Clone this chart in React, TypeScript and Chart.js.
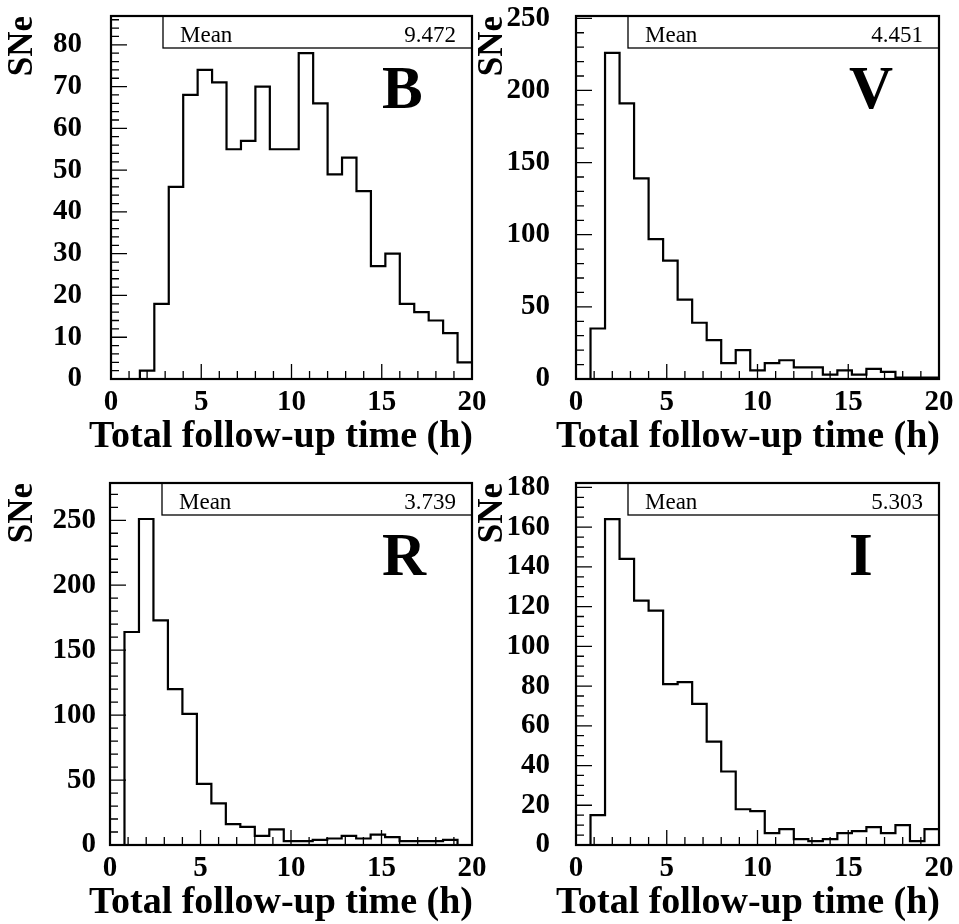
import React, { useEffect, useRef } from 'react';
import { Chart, registerables } from 'chart.js';

Chart.register(...registerables);

// ---------------- data ----------------
const binEdges = [0, 0.8, 1.6, 2.4, 3.2, 4.0, 4.8, 5.6, 6.4, 7.2, 8.0, 8.8, 9.6, 10.4, 11.2, 12.0, 12.8, 13.6, 14.4, 15.2, 16.0, 16.8, 17.6, 18.4, 19.2, 20.0];

const countsB = [0, 0, 2, 18, 46, 68, 74, 71, 55, 57, 70, 55, 55, 78, 66, 49, 53, 45, 27, 30, 18, 16, 14, 11, 4];
const countsV = [0, 35, 226, 191, 139, 97, 82, 55, 39, 27, 11, 20, 6, 11, 13, 8, 8, 3, 6, 3, 7, 5, 1, 1, 1];
const countsR = [0, 164, 251, 173, 120, 101, 47, 32, 16, 14, 7, 12, 3, 3, 4, 5, 7, 5, 8, 6, 3, 3, 3, 4, 0];
const countsI = [0, 15, 164, 144, 123, 118, 81, 82, 71, 52, 37, 18, 17, 6, 8, 3, 2, 3, 6, 7, 9, 6, 10, 2, 8];

const bandNames = ['B', 'V', 'R', 'I'];
const meanValues = ['9.472', '4.451', '3.739', '5.303'];

const xTickValues = [0, 5, 10, 15, 20];
const yTicksB = [0, 10, 20, 30, 40, 50, 60, 70, 80];
const yTicksV = [0, 50, 100, 150, 200, 250];
const yTicksR = [0, 50, 100, 150, 200, 250];
const yTicksI = [0, 20, 40, 60, 80, 100, 120, 140, 160, 180];

const yMaxValues = [86.9, 251.6, 278.7, 182.2];
const yMinorSteps = [2, 10, 10, 5];

const xTitle = 'Total follow-up time (h)';
const yTitle = 'SNe';

const allCounts = [countsB, countsV, countsR, countsI];
const allYTicks = [yTicksB, yTicksV, yTicksR, yTicksI];

// ---------------- layout ----------------
const serif = "'Liberation Serif', 'Times New Roman', Times, serif";

type Layout = {
  left: number; top: number; width: number; height: number;
  frameLeft: number; frameTop: number; frameRight: number; frameBottom: number;
  labelPad: number;
};

const layouts: Layout[] = [
  { left: 0, top: 0, width: 490, height: 462, frameLeft: 111, frameTop: 16, frameRight: 472, frameBottom: 379, labelPad: 29 },
  { left: 470, top: 0, width: 489, height: 462, frameLeft: 576, frameTop: 16, frameRight: 939, frameBottom: 379, labelPad: 26 },
  { left: 0, top: 462, width: 490, height: 462, frameLeft: 110, frameTop: 483, frameRight: 472, frameBottom: 845, labelPad: 14 },
  { left: 470, top: 462, width: 489, height: 462, frameLeft: 576, frameTop: 483, frameRight: 939, frameBottom: 845, labelPad: 26 },
];

const rootStyle = {
  id: 'rootStyle',
  afterDraw(chart: any, _args: any, opts: any) {
    const { ctx, chartArea: a, scales } = chart;
    const xs = scales.x;
    const ys = scales.y;
    ctx.save();
    ctx.strokeStyle = '#000';
    ctx.fillStyle = '#000';

    // inward tick marks
    ctx.lineWidth = 1.3;
    ctx.beginPath();
    for (let k = 0; k <= 20; k++) {
      const px = xs.getPixelForValue(k);
      const len = k % 5 === 0 ? 15 : 8;
      ctx.moveTo(px, a.bottom);
      ctx.lineTo(px, a.bottom - len);
    }
    const minor = opts.yMinor;
    const major = opts.yMajor;
    const n = Math.floor(ys.max / minor + 1e-9);
    for (let k = 0; k <= n; k++) {
      const v = k * minor;
      const py = ys.getPixelForValue(v);
      const isMajor = Math.abs(v / major - Math.round(v / major)) < 1e-6;
      ctx.moveTo(a.left, py);
      ctx.lineTo(a.left + (isMajor ? 16 : 8), py);
    }
    ctx.stroke();

    // frame
    ctx.lineWidth = 2.2;
    ctx.strokeRect(a.left, a.top, a.right - a.left, a.bottom - a.top);

    // stats box
    const bx = a.left + 52;
    const bh = 32;
    ctx.lineWidth = 1.3;
    ctx.strokeRect(bx, a.top, a.right - bx, bh);
    ctx.font = `23px ${serif}`;
    ctx.textBaseline = 'alphabetic';
    ctx.textAlign = 'left';
    ctx.fillText('Mean', bx + 17, a.top + 26);
    ctx.textAlign = 'right';
    ctx.fillText(opts.mean, a.right - 16, a.top + 26);

    // band letter
    ctx.font = `bold 61px ${serif}`;
    ctx.textAlign = 'left';
    ctx.fillText(opts.band, a.right - 90, a.top + 92);

    // x axis title (right aligned, ROOT style)
    ctx.font = `bold 38px ${serif}`;
    ctx.textAlign = 'right';
    ctx.fillText(xTitle, a.right + 1, a.bottom + 67.5);

    ctx.restore();
  },
};

function Panel({ idx }: { idx: number }) {
  const ref = useRef<HTMLCanvasElement>(null);
  const L = layouts[idx];

  useEffect(() => {
    const counts = allCounts[idx];
    const yTicks = allYTicks[idx];
    const points = binEdges.map((e, i) => ({ x: e, y: counts[Math.min(i, counts.length - 1)] }));
    const chart = new Chart(ref.current as HTMLCanvasElement, {
      type: 'line',
      data: {
        datasets: [
          {
            data: points,
            borderColor: '#000',
            borderWidth: 2.2,
            pointRadius: 0,
            stepped: 'before',
            fill: false,
            borderJoinStyle: 'miter',
          } as any,
        ],
      },
      options: {
        animation: false,
        responsive: false,
        maintainAspectRatio: false,
        devicePixelRatio: 1,
        events: [],
        layout: {
          padding: {
            left: 0,
            top: L.frameTop - L.top,
            right: L.left + L.width - L.frameRight,
            bottom: 0,
          },
        },
        plugins: {
          legend: { display: false },
          tooltip: { enabled: false },
          rootStyle: {
            yMinor: yMinorSteps[idx],
            yMajor: yTicks[1] - yTicks[0],
            mean: meanValues[idx],
            band: bandNames[idx],
          },
        } as any,
        scales: {
          x: {
            type: 'linear',
            min: 0,
            max: 20,
            afterBuildTicks: (s: any) => {
              s.ticks = xTickValues.map((v) => ({ value: v }));
            },
            afterFit: (s: any) => {
              s.height = L.top + L.height - L.frameBottom;
              s.paddingLeft = 0;
              s.paddingRight = 0;
            },
            grid: { display: false, drawTicks: false },
            border: { display: false },
            ticks: {
              padding: 6,
              autoSkip: false,
              maxRotation: 0,
              color: '#000',
              font: { family: serif, size: 29, weight: 'bold' },
            },
          },
          y: {
            type: 'linear',
            min: 0,
            max: yMaxValues[idx],
            afterBuildTicks: (s: any) => {
              s.ticks = yTicks.map((v) => ({ value: v }));
            },
            afterFit: (s: any) => {
              s.width = L.frameLeft - L.left;
              s.paddingTop = 0;
              s.paddingBottom = 0;
            },
            grid: { display: false, drawTicks: false },
            border: { display: false },
            title: {
              display: true,
              text: yTitle,
              align: 'end',
              color: '#000',
              font: { family: serif, size: 35, weight: 'bold' },
              padding: { top: 2, bottom: 0 },
            },
            ticks: {
              padding: L.labelPad,
              autoSkip: false,
              color: '#000',
              font: { family: serif, size: 29, weight: 'bold' },
            },
          },
        },
      } as any,
      plugins: [rootStyle as any],
    });
    return () => chart.destroy();
  }, [idx]);

  return (
    <canvas
      ref={ref}
      width={L.width}
      height={L.height}
      style={{ position: 'absolute', left: L.left, top: L.top, width: L.width, height: L.height }}
    />
  );
}

export default function App() {
  return (
    <div style={{ position: 'absolute', left: 0, top: 0, width: 959, height: 924, background: '#fff', overflow: 'hidden' }}>
      {[0, 1, 2, 3].map((i) => (
        <Panel key={i} idx={i} />
      ))}
    </div>
  );
}
